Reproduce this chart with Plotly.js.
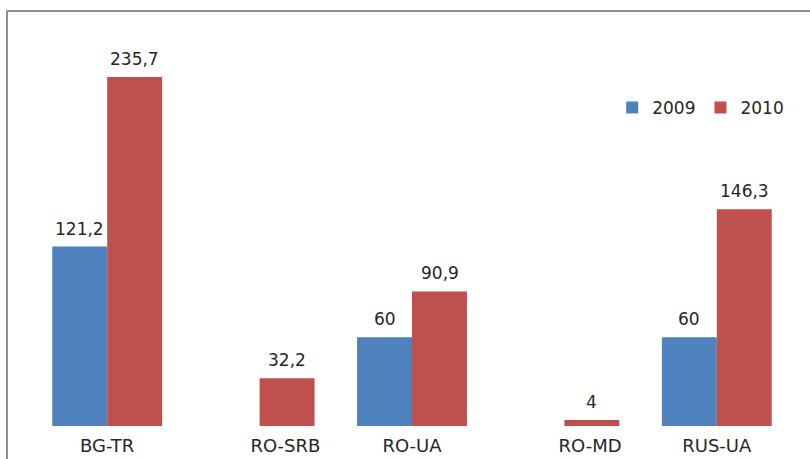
<!DOCTYPE html>
<html>
<head>
<meta charset="utf-8">
<script src="https://cdn.plot.ly/plotly-3.0.1.min.js"></script>
<style>
  html, body { margin: 0; padding: 0; background: #fff; overflow: hidden; }
  #frame { position: absolute; left: 6px; top: 10px; width: 830px; height: 480px;
           border: 2px solid #8e8e8e; box-sizing: border-box; }
  #chart { position: absolute; left: 0; top: 0; width: 810px; height: 459px; }
</style>
</head>
<body>
<div id="frame"></div>
<div id="chart"></div>
<script>
const categories = ["BG-TR", "RO-SRB", "RO-UA", "RO-MD", "RUS-UA"];
const tickLabels = ["BG-TR", "RO-SRB", "RO-UA", "RO-MD", "RUS-UA"];
const series = ["2009", "2010"];
const values2009 = [121.2, null, 60, null, 60];
const values2010 = [235.7, 32.2, 90.9, 4, 146.3];

const fmt = v => String(v).replace(".", ",");
const NB = "\u00A0";
const pad = NB.repeat(9);
const shifted = { "RO-SRB": true, "RO-MD": true };
const shownTicks = tickLabels.map(t => shifted[t] ? pad + t : t);

const fam = "DejaVu Sans, sans-serif";
const txtColor = "#262626";

const traces = [
  { type: "bar", name: series[0], x: categories, y: values2009,
    marker: { color: "#4F81BD" }, hoverinfo: "skip" },
  { type: "bar", name: series[1], x: categories, y: values2010,
    marker: { color: "#C0504D" }, hoverinfo: "skip" }
];

// data labels above each bar (half a bar width left / right of the category centre)
const halfBar = 27.5;
const annotations = [];
[values2009, values2010].forEach((vals, si) => {
  vals.forEach((v, i) => {
    if (v === null) return;
    annotations.push({
      x: categories[i], y: v, xref: "x", yref: "y",
      text: fmt(v), showarrow: false, yanchor: "bottom",
      xshift: si === 0 ? -halfBar : halfBar, yshift: 6,
      font: { family: fam, size: 17, color: txtColor }
    });
  });
});

const layout = {
  width: 810, height: 459,
  margin: { l: 31, r: 17, t: 41, b: 33 },
  paper_bgcolor: "rgba(0,0,0,0)", plot_bgcolor: "rgba(0,0,0,0)",
  barmode: "group", bargap: 0.279, bargroupgap: 0,
  font: { family: fam, size: 16, color: txtColor },
  showlegend: true,
  legend: { orientation: "h", x: 0.995, xanchor: "right", y: 0.826, yanchor: "middle",
            font: { family: fam, size: 17, color: txtColor },
            bgcolor: "rgba(0,0,0,0)", itemwidth: 30, traceorder: "normal" },
  annotations: annotations,
  xaxis: { type: "category", categoryorder: "array", categoryarray: categories,
           tickvals: categories, ticktext: shownTicks,
           showline: false, showgrid: false, zeroline: false, ticks: "",
           ticklabelstandoff: 7,
           tickfont: { family: fam, size: 18, color: txtColor },
           fixedrange: true },
  yaxis: { range: [0, 260], visible: false, showgrid: false, zeroline: false, fixedrange: true }
};

Plotly.newPlot("chart", traces, layout, { displayModeBar: false, staticPlot: true });
</script>
</body>
</html>
